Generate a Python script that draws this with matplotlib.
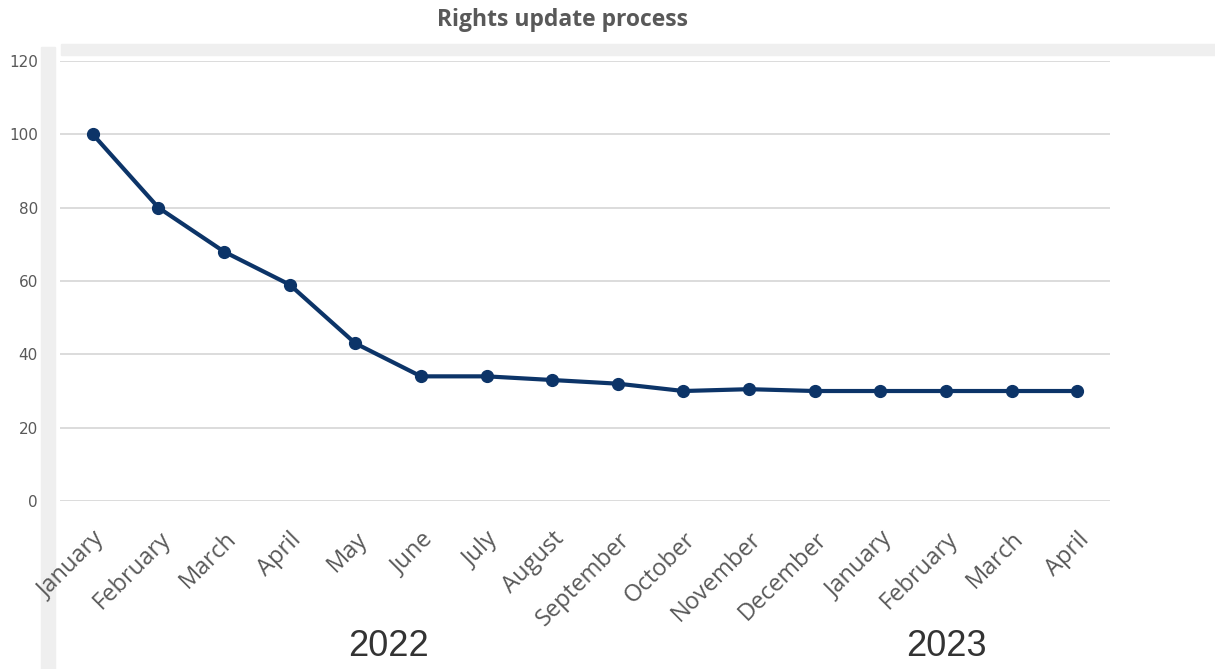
import matplotlib.pyplot as plt
import matplotlib.transforms as mtransforms
from matplotlib.patches import Rectangle

months = ["January", "February", "March", "April", "May", "June", "July",
          "August", "September", "October", "November", "December",
          "January", "February", "March", "April"]
values = [100, 80, 68, 59, 43, 34, 34, 33, 32, 30, 30.5, 30, 30, 30, 30, 30]
years = ["2022", "2023"]
year_pos = [4.5, 13.0]

fig = plt.figure(figsize=(12.15, 6.69), dpi=100)
ax = fig.add_axes([0.0494, 0.2511, 0.8642, 0.6577])

# faint scan-like bands from the original picture
fig.patches.append(Rectangle((0.034, 0.0), 0.011, 0.93, transform=fig.transFigure,
                             color="#efefef", zorder=-1))
fig.patches.append(Rectangle((0.05, 0.918), 0.95, 0.016, transform=fig.transFigure,
                             color="#efefef", zorder=-1))

x = range(len(months))
ax.plot(x, values, color="#0c3468", linewidth=3, marker="o", markersize=8.5,
        zorder=3)

ax.set_xlim(-0.5, len(months) - 0.5)
ax.set_ylim(0, 120)
ax.set_yticks(range(0, 121, 20))
ax.grid(axis="y", color="#d9d9d9", linewidth=1.3)
ax.set_axisbelow(True)
for s in ax.spines.values():
    s.set_visible(False)

ax.set_xticks(list(x))
ax.set_xticklabels(months, rotation=45, ha="right", rotation_mode="anchor",
                   fontsize=17, color="#595959", family="Open Sans")
ax.tick_params(axis="x", length=0, pad=19)
ax.tick_params(axis="y", length=0, pad=16, labelsize=11, labelcolor="#595959")

trans = mtransforms.blended_transform_factory(ax.transData, fig.transFigure)
for yr, pos in zip(years, year_pos):
    ax.text(pos, 0.008, yr, transform=trans, fontsize=26, color="#333333",
            ha="center", va="bottom", family="Liberation Sans")

fig.suptitle("Rights update process", x=0.463, y=0.988, va="top", fontsize=16.5,
             fontweight="bold", color="#595959", family="Open Sans")

fig.savefig("out.png")
